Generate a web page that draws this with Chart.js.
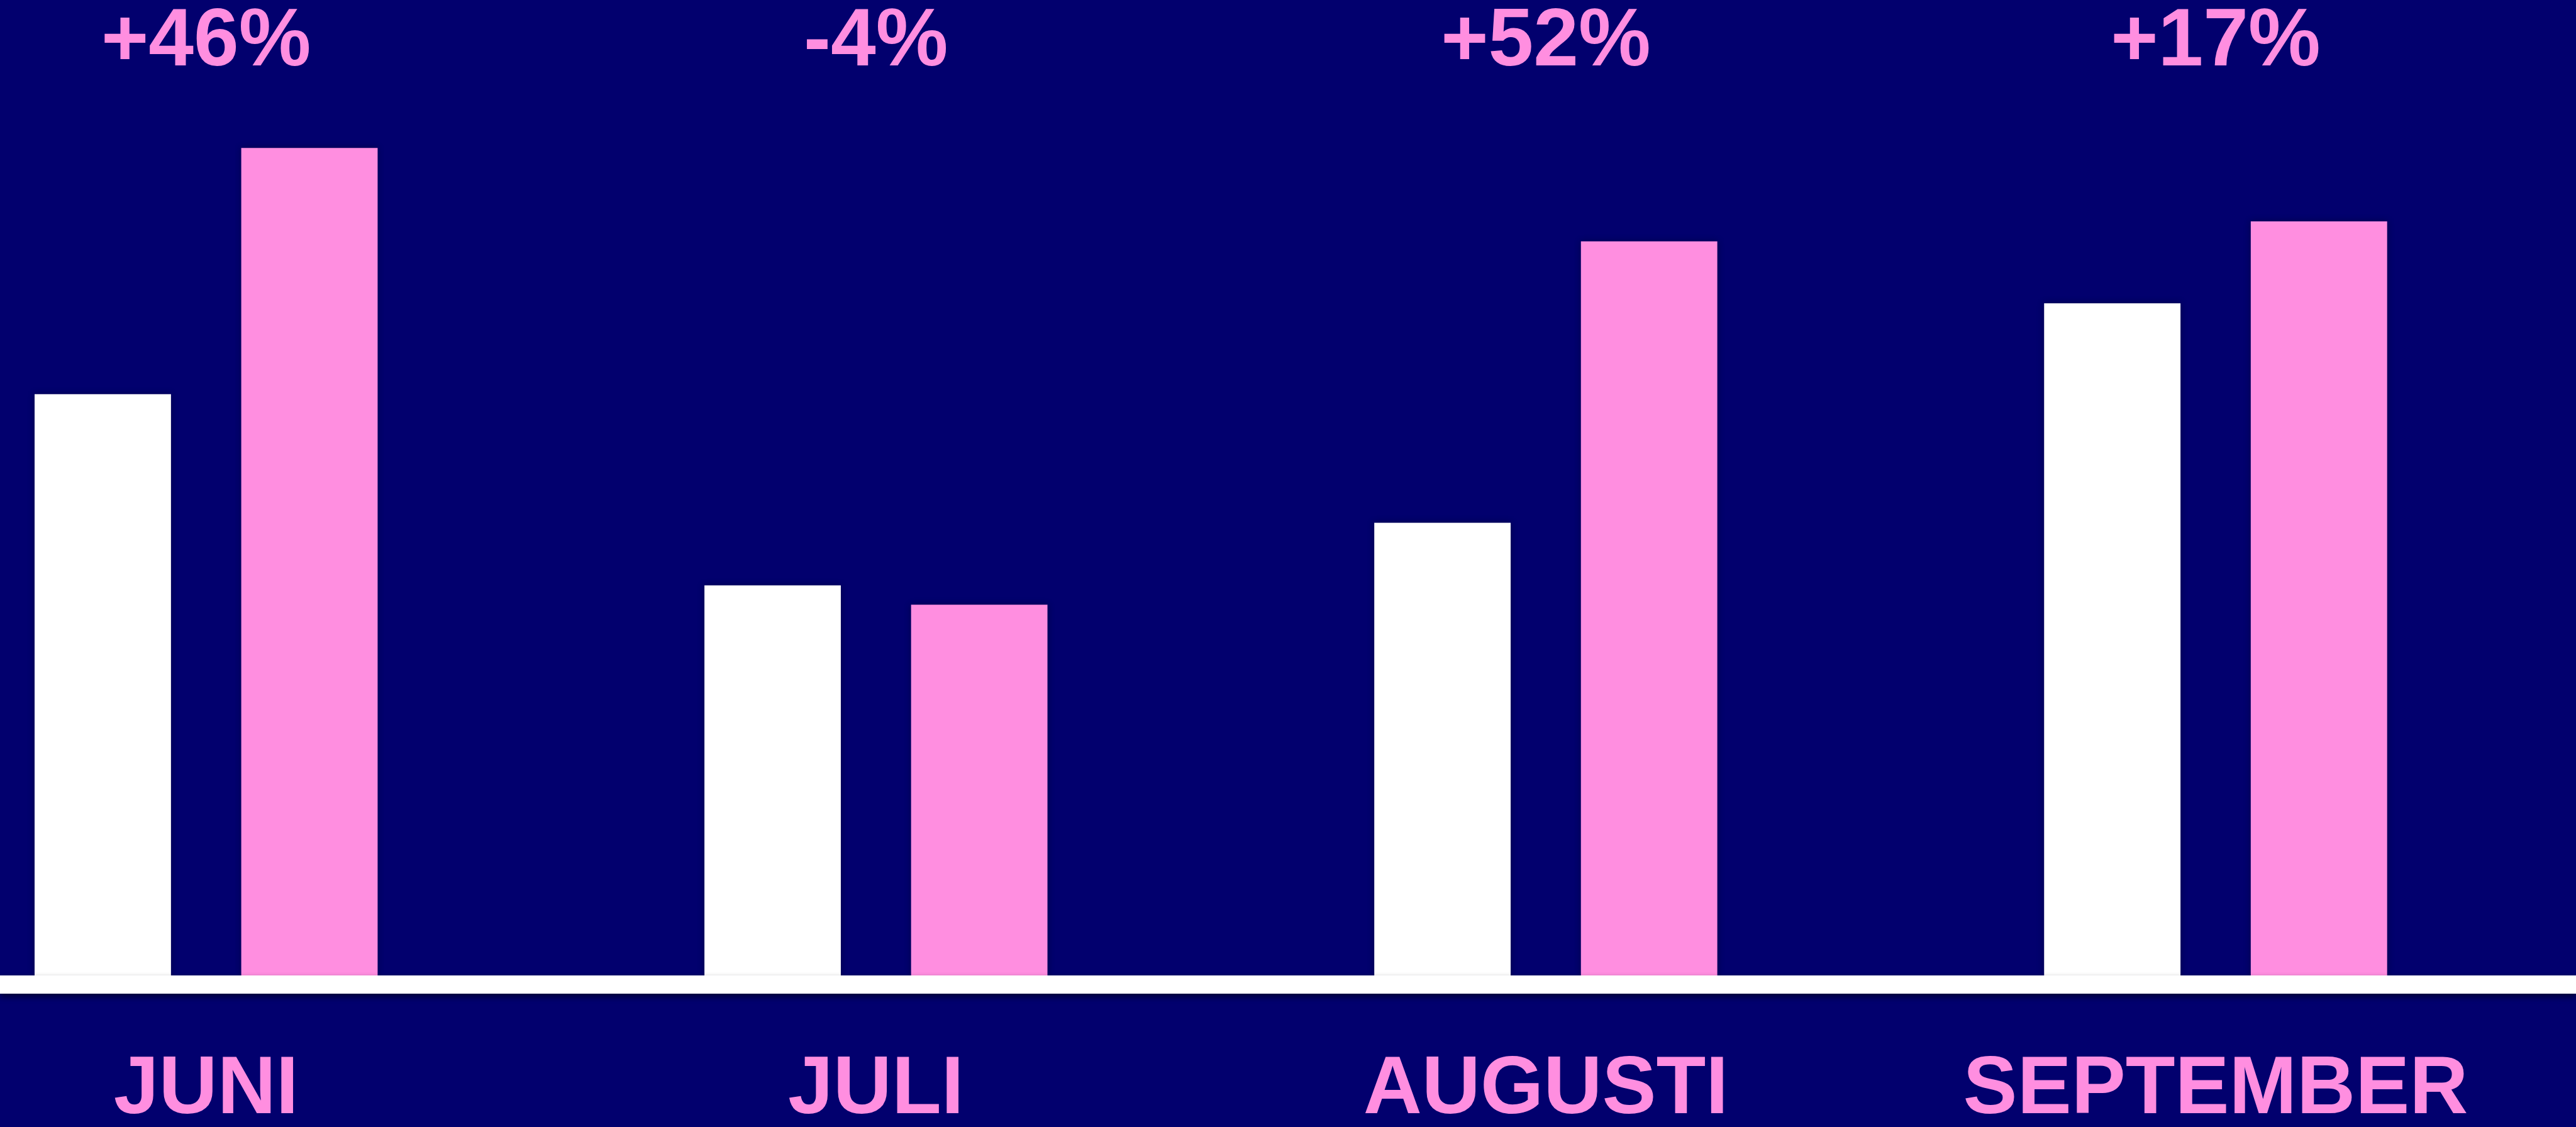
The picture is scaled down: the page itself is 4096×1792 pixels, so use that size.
<!DOCTYPE html>
<html>
<head>
<meta charset="utf-8">
<script src="https://cdn.jsdelivr.net/npm/chart.js@4"></script>
<style>
  html, body { margin: 0; padding: 0; background: #02006E; }
  #wrap { width: 4096px; height: 1792px; }
</style>
</head>
<body>
<div id="wrap"><canvas id="chart"></canvas></div>
<script>
// Data (bar heights, arbitrary units)
const months = ["JUNI", "JULI", "AUGUSTI", "SEPTEMBER"];
const lastYear = [95.8, 64.3, 74.6, 110.8];
const thisYear = [136.4, 61.1, 121.0, 124.3];
const changeLabels = ["+46%", "-4%", "+52%", "+17%"];

const NAVY = "#02006E";
const PINK = "#FF8EE0";
const WHITE = "#FFFFFF";
const FONT = "'Liberation Sans', Arial, sans-serif";

// Soft shadow under the bars, white base line and the % labels on top
const decorPlugin = {
    id: "decor",
    beforeDatasetsDraw(chart) {
        const ctx = chart.ctx;
        ctx.save();
        ctx.shadowColor = "rgba(0, 0, 30, 0.45)";
        ctx.shadowBlur = 10;
    },
    afterDatasetsDraw(chart) {
        const ctx = chart.ctx;
        ctx.restore();
        const area = chart.chartArea;
        ctx.save();
        ctx.shadowColor = "rgba(0, 0, 20, 0.6)";
        ctx.shadowBlur = 10;
        ctx.shadowOffsetY = 5;
        ctx.fillStyle = WHITE;
        ctx.fillRect(0, area.bottom, chart.width, 29);
        ctx.restore();

        const x = chart.scales.x;
        ctx.save();
        ctx.fillStyle = PINK;
        ctx.font = "bold 129px " + FONT;
        ctx.textAlign = "center";
        ctx.textBaseline = "alphabetic";
        changeLabels.forEach((t, i) => {
            ctx.fillText(t, x.getPixelForValue(i), 104);
        });
        ctx.restore();
    }
};

const ctx = document.getElementById("chart").getContext("2d");
new Chart(ctx, {
    type: "bar",
    data: {
        datasets: [
            {
                label: "2022",
                data: lastYear.map((v, i) => ({ x: i, y: v })),
                backgroundColor: WHITE,
                borderWidth: 0
            },
            {
                label: "2023",
                data: thisYear.map((v, i) => ({ x: i, y: v })),
                backgroundColor: PINK,
                borderWidth: 0
            }
        ]
    },
    options: {
        responsive: true,
        maintainAspectRatio: false,
        animation: false,
        categoryPercentage: 0.617,
        barPercentage: 0.66,
        layout: { padding: { top: 104, left: 0, right: 0, bottom: -118 } },
        plugins: {
            legend: { display: false },
            tooltip: { enabled: false }
        },
        scales: {
            x: {
                type: "linear",
                offset: false,
                min: -0.3077,
                max: 3.538,
                grid: { display: false, offset: false },
                border: { display: false },
                afterBuildTicks: scale => {
                    scale.ticks = months.map((m, i) => ({ value: i }));
                },
                ticks: {
                    color: PINK,
                    padding: 111,
                    maxRotation: 0,
                    autoSkip: false,
                    font: { family: FONT, weight: "bold", size: 129, lineHeight: 1.0 },
                    callback: v => months[v]
                }
            },
            y: {
                display: false,
                min: 0,
                max: 150
            }
        }
    },
    plugins: [decorPlugin]
});
</script>
</body>
</html>
